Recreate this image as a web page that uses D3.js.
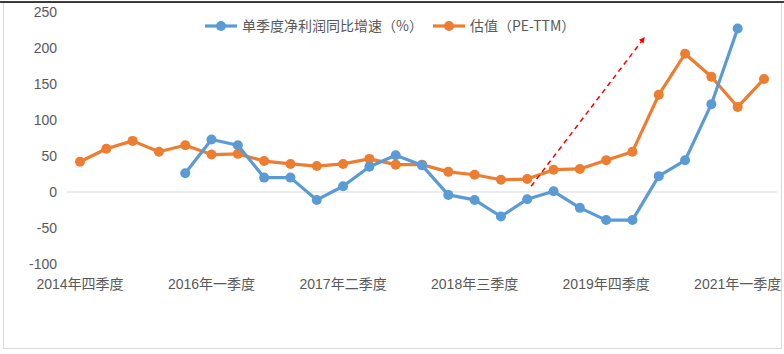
<!DOCTYPE html>
<html>
<head>
<meta charset="utf-8">
<script src="https://cdn.jsdelivr.net/npm/d3@7"></script>
<style>
  body { margin: 0; background: #fff; }
  svg text { font-family: "Liberation Sans", "Noto Sans CJK SC", sans-serif; fill: #595959; }
  svg text.cjk { font-family: "Noto Sans CJK SC", sans-serif; }
</style>
</head>
<body>
<svg id="chart" width="784" height="354"></svg>
<script>
// 季度（2014Q4 - 2021Q2）
var quarters = ['2014年四季度','2015年一季度','2015年二季度','2015年三季度','2015年四季度',
    '2016年一季度','2016年二季度','2016年三季度','2016年四季度','2017年一季度',
    '2017年二季度','2017年三季度','2017年四季度','2018年一季度','2018年二季度',
    '2018年三季度','2018年四季度','2019年一季度','2019年二季度','2019年三季度',
    '2019年四季度','2020年一季度','2020年二季度','2020年三季度','2020年四季度',
    '2021年一季度','2021年二季度'];
// 单季度净利润同比增速（%），null 为缺失
var growth = [null, null, null, null, 26, 73, 65, 20, 20, -11, 8, 35, 51, 37, -4, -11, -34, -10, 1,
    -22, -39, -39, 22, 44, 122, 227, null];
// 估值（PE-TTM）
var pe = [42, 60, 71, 56, 65, 52, 53, 43, 39, 36, 39, 46, 38, 38, 28, 24, 17, 18, 31, 32, 44, 56,
    135, 192, 160, 118, 157];
var yTicks = [-100, -50, 0, 50, 100, 150, 200, 250];
var labelEvery = 5;
// 红色箭头（季度序号, 数值）
var arrowFrom = [17.15, 8], arrowTo = [21.4, 212];

var svg = d3.select('#chart');

// 外框
svg.append('rect').attr('x', 3.5).attr('y', 2.5).attr('width', 778).attr('height', 346)
    .attr('fill', 'none').attr('stroke', '#d9d9d9');
svg.append('line').attr('x1', 0).attr('x2', 784).attr('y1', 2).attr('y2', 2)
    .attr('stroke', '#000').attr('stroke-width', 1.5);

var x = d3.scalePoint().domain(d3.range(quarters.length)).range([80, 764]);
var y = d3.scaleLinear().domain([-100, 250]).range([264, 12]);

// 纵轴刻度
svg.selectAll('.ytick').data(yTicks).enter().append('text')
    .attr('x', 57).attr('y', function (d) { return y(d); })
    .attr('dy', '0.35em').attr('text-anchor', 'end')
    .style('font-size', '14px').text(function (d) { return d; });

// 零线
svg.append('line').attr('x1', 67).attr('x2', 777).attr('y1', y(0)).attr('y2', y(0))
    .attr('stroke', '#d9d9d9').attr('stroke-width', 1);

// 横轴标签
svg.selectAll('.xlab').data(quarters.filter(function (d, i) { return i % labelEvery === 0; }))
    .enter().append('text')
    .attr('x', function (d) { return x(quarters.indexOf(d)); }).attr('y', 284)
    .attr('dy', '0.35em').attr('text-anchor', 'middle')
    .style('font-size', '14px').text(function (d) { return d; });

var drawSeries = function (vals, color) {
    var pts = vals.map(function (v, i) { return [i, v]; }).filter(function (d) { return d[1] !== null; });
    var line = d3.line().x(function (d) { return x(d[0]); }).y(function (d) { return y(d[1]); });
    svg.append('path').attr('d', line(pts)).attr('fill', 'none')
        .attr('stroke', color).attr('stroke-width', 3.2).attr('stroke-linejoin', 'round');
    svg.append('g').selectAll('circle').data(pts).enter().append('circle')
        .attr('cx', function (d) { return x(d[0]); }).attr('cy', function (d) { return y(d[1]); })
        .attr('r', 5).attr('fill', color);
};
drawSeries(pe, '#ed7d31');
drawSeries(growth, '#5b9bd5');

// 红色虚线箭头
svg.append('defs').append('marker').attr('id', 'arr').attr('viewBox', '0 0 10 10')
    .attr('refX', 5).attr('refY', 5).attr('markerWidth', 4).attr('markerHeight', 4)
    .attr('orient', 'auto')
    .append('path').attr('d', 'M0,0L10,5L0,10z').attr('fill', '#ff0000');
var xi = d3.scaleLinear().domain([0, quarters.length - 1]).range(x.range());
svg.append('line')
    .attr('x1', xi(arrowFrom[0])).attr('y1', y(arrowFrom[1]))
    .attr('x2', xi(arrowTo[0])).attr('y2', y(arrowTo[1]))
    .attr('stroke', '#ff0000').attr('stroke-width', 1.5).attr('stroke-dasharray', '5,4')
    .attr('marker-end', 'url(#arr)');

// 图例
var legend = [['单季度净利润同比增速（%）', '#5b9bd5', 205], ['估值（PE-TTM）', '#ed7d31', 433]];
legend.forEach(function (l) {
    var g = svg.append('g').attr('transform', 'translate(' + l[2] + ',26)');
    g.append('line').attr('x1', 0).attr('x2', 32).attr('stroke', l[1]).attr('stroke-width', 3.2);
    g.append('circle').attr('cx', 16).attr('r', 5).attr('fill', l[1]);
    g.append('text').attr('class', 'cjk').attr('x', 37).attr('dy', '0.35em')
        .style('font-size', '14px').text(l[0]);
});
</script>
</body>
</html>
